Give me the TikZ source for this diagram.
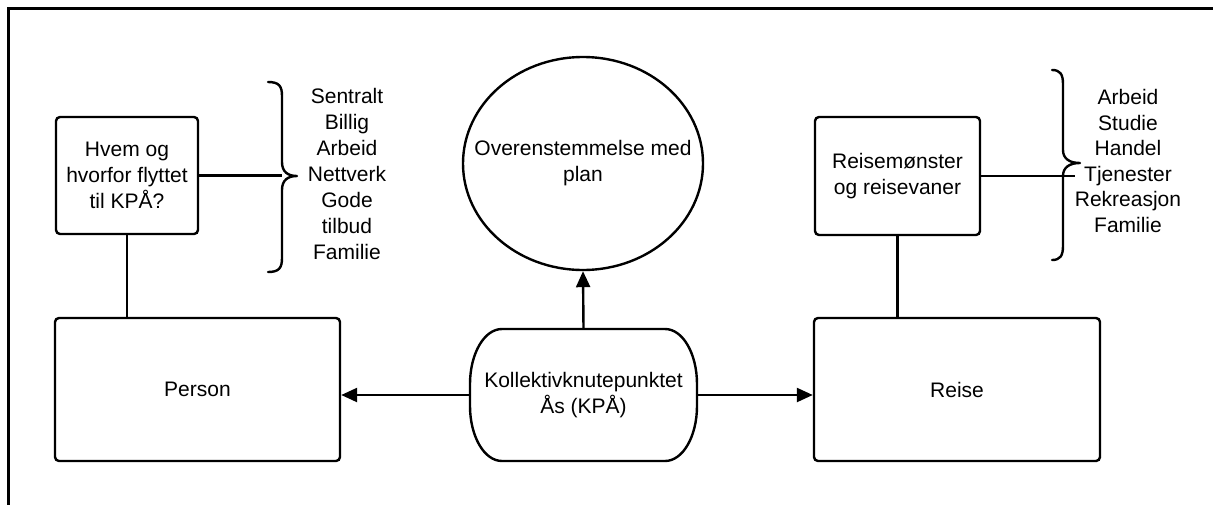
\documentclass[tikz,border=0pt]{standalone}
\usepackage{fontspec}
\setmainfont{Liberation Sans}
\usetikzlibrary{arrows.meta,shapes.geometric}
\tikzset{
  txt/.style={font=\fontsize{21}{26}\selectfont, align=center, inner sep=0pt},
  boxnode/.style={txt, draw, line width=2.4pt, rounded corners=4pt},
  conn/.style={line width=2.4pt},
  arr/.style={line width=2.4pt, -{Triangle[length=16pt,width=14pt]}},
  bracestyle/.style={line width=2.4pt, line cap=round, line join=round},
}
\begin{document}
\begin{tikzpicture}[x=1pt,y=-1pt]
\clip (0,0) rectangle (1213,504);
\fill[white] (0,0) rectangle (1213,504);
% outer frame (only top and left edges visible)
\draw[line width=3pt] (8,530) -- (8,8) -- (1240,8);

% nodes
\node[boxnode, minimum width=142pt, minimum height=117pt] (hvem) at (127,175.5) {Hvem og\\hvorfor flyttet\\til KPÅ?};
\node[boxnode, minimum width=165pt, minimum height=118pt] (reisem) at (897.5,176) {Reisemønster\\og reisevaner};
\node[boxnode, minimum width=285pt, minimum height=143pt] (person) at (197.5,389.5) {Person};
\node[boxnode, minimum width=286pt, minimum height=143pt] (reise) at (957,389.5) {Reise};
\node[draw, line width=2.4pt, ellipse, inner sep=0pt, minimum width=240pt, minimum height=213pt,
  label={[txt]center:Overenstemmelse med\\plan}] (plan) at (583,163.5) {};
\node[txt, minimum width=227pt, minimum height=132pt] (kpa) at (583.5,395) {Kollektivknutepunktet\\Ås (KPÅ)};
\draw[line width=2.4pt]
  (502,329) -- (665,329) .. controls (683,329) and (697,354) .. (697,384)
  -- (697,406) .. controls (697,436) and (683,461) .. (665,461)
  -- (502,461) .. controls (484,461) and (470,436) .. (470,406)
  -- (470,384) .. controls (470,354) and (484,329) .. (502,329) -- cycle;

\node[txt] (leftlist) at (347,173.5) {Sentralt\\Billig\\Arbeid\\Nettverk\\Gode\\tilbud\\Familie};
\node[txt, font=\fontsize{21}{25.6}\selectfont] (rightlist) at (1128,161) {Arbeid\\Studie\\Handel\\Tjenester\\Rekreasjon\\Familie};

% braces
\draw[bracestyle] (268,82) .. controls (279,82) and (282,86) .. (282,96) -- (282,162)
  .. controls (282,172) and (288,176) .. (297,176)
  .. controls (288,176) and (282,180) .. (282,190) -- (282,258)
  .. controls (282,268) and (279,272) .. (268,272);
\draw[bracestyle] (1052,70) .. controls (1060,70) and (1063,74) .. (1063,84) -- (1063,150)
  .. controls (1063,159) and (1070,163) .. (1080,163)
  .. controls (1070,163) and (1063,167) .. (1063,176) -- (1063,246)
  .. controls (1063,256) and (1060,260) .. (1052,260);
\coordinate (bl) at (282,175.5);
\coordinate (br) at (1075,176);

% connectors
\draw[conn] (hvem.east) -- (bl);
\draw[conn] (reisem.east) -- (br);
\draw[conn] (hvem.south) -- (hvem.south |- person.north);
\draw[conn] (reisem.south) -- (reisem.south |- reise.north);
\draw[arr] (kpa.north) -- (plan.south);
\draw[arr] (kpa.west) -- (kpa.west -| person.east);
\draw[arr] (kpa.east) -- (kpa.east -| reise.west);
\end{tikzpicture}
\end{document}
